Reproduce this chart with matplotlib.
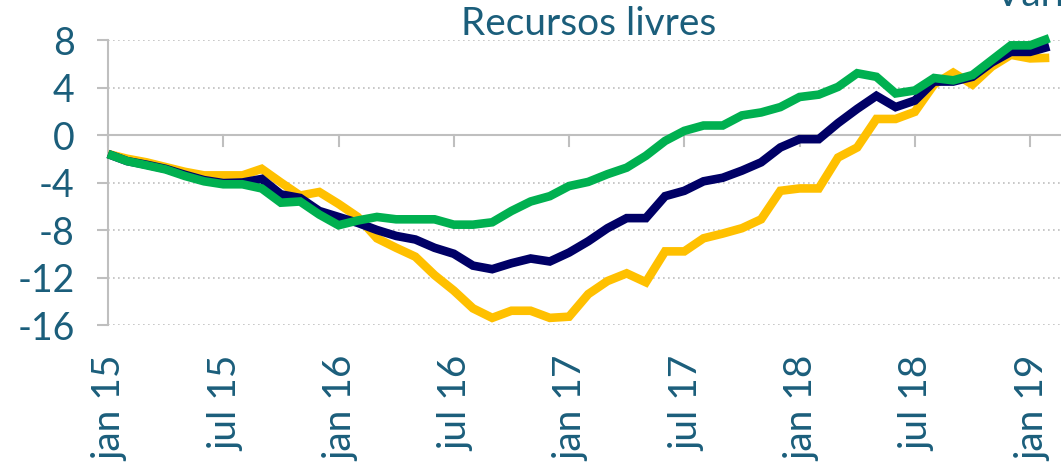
import matplotlib
matplotlib.use("Agg")
import matplotlib.pyplot as plt

# ---- data -------------------------------------------------------------
tick_labels = ["jan 15", "jul 15", "jan 16", "jul 16", "jan 17",
               "jul 17", "jan 18", "jul 18", "jan 19"]
tick_step = 6  # months between labelled ticks

serie_navy = [-1.6, -2.2, -2.5, -2.85, -3.35, -3.8, -4.05, -4.0, -3.7, -5.0,
              -5.3, -6.4, -6.9, -7.4, -8.0, -8.5, -8.8, -9.5, -10.0, -11.0,
              -11.3, -10.8, -10.4, -10.65, -9.9, -8.95, -7.85, -7.0, -7.0, -5.15,
              -4.7, -3.9, -3.6, -3.0, -2.3, -1.05, -0.35, -0.35, 1.0, 2.2,
              3.3, 2.35, 2.9, 4.5, 4.5, 4.9, 6.1, 7.0, 7.0, 7.45]

serie_amarela = [-1.6, -2.0, -2.3, -2.7, -3.1, -3.4, -3.4, -3.4, -2.85, -4.0,
                 -5.1, -4.8, -5.8, -6.9, -8.7, -9.5, -10.25, -11.8, -13.1, -14.6,
                 -15.4, -14.8, -14.8, -15.4, -15.3, -13.4, -12.3, -11.65, -12.4, -9.8,
                 -9.8, -8.7, -8.3, -7.85, -7.1, -4.7, -4.5, -4.5, -1.9, -1.05,
                 1.35, 1.35, 1.95, 4.25, 5.25, 4.25, 5.75, 6.75, 6.45, 6.5]

serie_verde = [-1.6, -2.2, -2.55, -2.9, -3.45, -3.9, -4.15, -4.15, -4.5, -5.7,
               -5.6, -6.7, -7.6, -7.2, -6.9, -7.1, -7.1, -7.1, -7.55, -7.55,
               -7.35, -6.4, -5.6, -5.15, -4.3, -3.95, -3.3, -2.75, -1.75, -0.5,
               0.35, 0.8, 0.8, 1.65, 1.9, 2.35, 3.2, 3.4, 4.05, 5.2,
               4.9, 3.5, 3.75, 4.8, 4.6, 5.05, 6.3, 7.55, 7.55, 8.15]

y_ticks = [8, 4, 0, -4, -8, -12, -16]

# ---- style ------------------------------------------------------------
TXT = "#1B5E7B"
GRID = "#BFBFBF"
plt.rcParams["font.family"] = ["Lato", "DejaVu Sans"]

W, H = 1061, 465
fig = plt.figure(figsize=(W / 100, H / 100), dpi=100)
ax = fig.add_axes([108 / W, 1 - 325 / H, 1 - 108 / W, (325 - 40) / H])

x = list(range(len(serie_navy)))
lw = 6.2
ax.plot(x, serie_amarela, color="#FFC000", lw=lw, zorder=3,
        solid_joinstyle="miter", solid_capstyle="butt", clip_on=False)
ax.plot(x, serie_navy, color="#000066", lw=lw, zorder=4,
        solid_joinstyle="miter", solid_capstyle="butt", clip_on=False)
ax.plot(x, serie_verde, color="#00B050", lw=lw, zorder=5,
        solid_joinstyle="miter", solid_capstyle="butt", clip_on=False)

ax.set_xlim(0, (W - 108) / 19.21)
ax.set_ylim(-16, 8)

# gridlines (dotted) except at zero where the category axis sits
for yv in y_ticks:
    if yv != 0:
        ax.axhline(yv, color=GRID, lw=1.2, ls=(0, (1, 2)), zorder=1)
ax.axhline(0, color=GRID, lw=1.5, zorder=2)

# x ticks on zero line
tick_pos = [i * tick_step for i in range(len(tick_labels))]
for tp in tick_pos:
    ax.plot([tp, tp], [0, -0.9], color=GRID, lw=1.5, zorder=2, clip_on=False)

for s in ["top", "right", "bottom"]:
    ax.spines[s].set_visible(False)
ax.spines["left"].set_color(GRID)
ax.spines["left"].set_linewidth(1.5)

ax.set_yticks(y_ticks)
ax.set_yticklabels([str(v) for v in y_ticks])
ax.tick_params(axis="y", colors=GRID, length=8, width=1.5, labelcolor=TXT,
               labelsize=27, pad=16)
ax.set_xticks([])

for tp, lab in zip(tick_pos, tick_labels):
    ax.annotate(lab, xy=(tp, -16), xycoords="data", xytext=(2, -22),
                textcoords="offset points", rotation=90, ha="center", va="top",
                fontsize=28, color=TXT, annotation_clip=False)

fig.text(589 / W, 1 - 35 / H, "Recursos livres", ha="center", va="baseline",
         fontsize=28, color=TXT)
fig.text(995 / W, 1 - 6 / H, "Variação % em 12 meses", ha="left",
         va="baseline", fontsize=28, color=TXT)

fig.savefig("out.png", dpi=100)
